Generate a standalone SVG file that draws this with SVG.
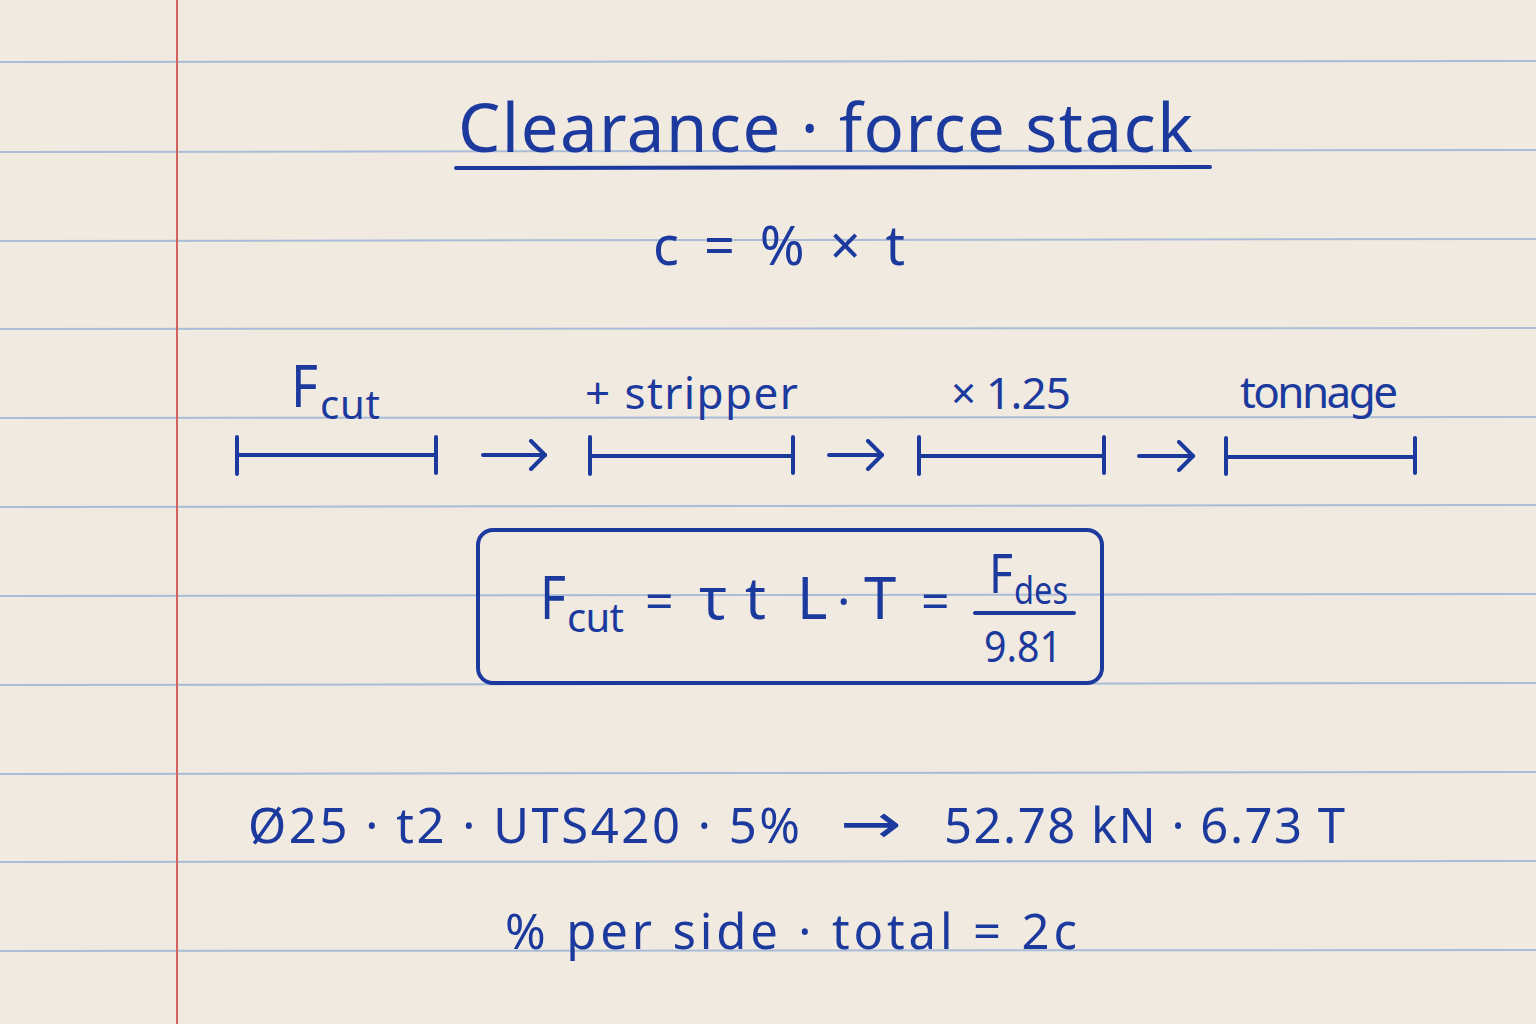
<svg xmlns="http://www.w3.org/2000/svg" width="1536" height="1024" viewBox="0 0 1536 1024">
<defs>
<style>
.ink{fill:#1c3a9e;font-family:"Noto Sans","Open Sans","DejaVu Sans",sans-serif;}
.stroke{stroke:#1c3a9e;stroke-linecap:round;stroke-linejoin:round;fill:none;}
.rule{stroke:#a9bcd8;stroke-width:2;}
</style>
<marker id="chev" markerUnits="userSpaceOnUse" viewBox="0 0 20 32" refX="17" refY="16" markerWidth="20" markerHeight="32" orient="auto">
<path d="M3 2 L17 16 L3 30" fill="none" stroke="#1c3a9e" stroke-width="4" stroke-linecap="round" stroke-linejoin="round"/>
</marker>
</defs>
<rect width="1536" height="1024" fill="#f1eae0"/>
<g id="paper">
<line class="rule" x1="0" y1="62" x2="1536" y2="61"/>
<line class="rule" x1="0" y1="152" x2="1536" y2="150"/>
<line class="rule" x1="0" y1="241" x2="1536" y2="239"/>
<line class="rule" x1="0" y1="329" x2="1536" y2="328"/>
<line class="rule" x1="0" y1="418" x2="1536" y2="417"/>
<line class="rule" x1="0" y1="507" x2="1536" y2="505"/>
<line class="rule" x1="0" y1="596" x2="1536" y2="594"/>
<line class="rule" x1="0" y1="685" x2="1536" y2="683"/>
<line class="rule" x1="0" y1="774" x2="1536" y2="772"/>
<line class="rule" x1="0" y1="862" x2="1536" y2="861"/>
<line class="rule" x1="0" y1="951" x2="1536" y2="950"/>
<line x1="177" y1="0" x2="177" y2="1024" stroke="#d4625e" stroke-width="2"/>
</g>
<g id="title">
<text class="ink" x="458" y="152" font-size="67" textLength="735" lengthAdjust="spacing">Clearance · force stack</text>
<line class="stroke" x1="456" y1="168" x2="1210" y2="167" stroke-width="4"/>
</g>
<g id="clearance-formula">
<text class="ink" x="653" y="265" font-size="54" textLength="252" lengthAdjust="spacing">c = % × t</text>
</g>
<g id="stage-fcut">
<text class="ink" x="291" y="407" font-size="58" textLength="27" lengthAdjust="spacingAndGlyphs">F</text>
<text class="ink" x="320" y="419" font-size="40" textLength="60" lengthAdjust="spacing">cut</text>
<path class="stroke" stroke-width="4" d="M237 437 V474 M237 455 H436 M436 437 V473"/>
</g>
<g id="stage-stripper">
<text class="ink" x="585" y="409" font-size="44" textLength="213" lengthAdjust="spacing">+ stripper</text>
<path class="stroke" stroke-width="4" d="M590 437 V474 M590 456 H793 M793 437 V473"/>
</g>
<g id="stage-factor">
<text class="ink" x="951" y="409" font-size="44" textLength="120" lengthAdjust="spacing">× 1.25</text>
<path class="stroke" stroke-width="4" d="M919 437 V474 M919 456 H1104 M1104 437 V473"/>
</g>
<g id="stage-tonnage">
<text class="ink" x="1240" y="408" font-size="44" textLength="158" lengthAdjust="spacing">tonnage</text>
<path class="stroke" stroke-width="4" d="M1226 438 V474 M1226 457 H1415 M1415 438 V473"/>
</g>
<g id="connectors">
<line class="stroke" stroke-width="4" x1="483" y1="455" x2="545" y2="455" marker-end="url(#chev)"/>
<line class="stroke" stroke-width="4" x1="829" y1="455" x2="882" y2="455" marker-end="url(#chev)"/>
<line class="stroke" stroke-width="4" x1="1139" y1="456" x2="1193" y2="456" marker-end="url(#chev)"/>
</g>
<g id="force-box">
<rect class="stroke" x="478" y="530" width="624" height="153" rx="15" stroke-width="4"/>
<text class="ink" x="540" y="619" font-size="60" textLength="26" lengthAdjust="spacingAndGlyphs">F</text>
<text class="ink" x="567" y="632" font-size="40" textLength="57" lengthAdjust="spacing">cut</text>
<text class="ink" x="645" y="619" font-size="50">=</text>
<text class="ink" x="699" y="619" font-size="58">τ</text>
<text class="ink" x="745" y="619" font-size="58">t</text>
<text class="ink" x="797" y="619" font-size="58">L</text>
<text class="ink" x="837" y="619" font-size="50">·</text>
<text class="ink" x="864" y="619" font-size="58">T</text>
<text class="ink" x="921" y="619" font-size="50">=</text>
<text class="ink" x="989" y="593" font-size="55" textLength="24" lengthAdjust="spacingAndGlyphs">F</text>
<text class="ink" x="1014" y="604" font-size="38" textLength="54" lengthAdjust="spacingAndGlyphs">des</text>
<line class="stroke" x1="975" y1="613" x2="1074" y2="613" stroke-width="4"/>
<text class="ink" x="984" y="662" font-size="44" textLength="78" lengthAdjust="spacingAndGlyphs">9.81</text>
</g>
<g id="example">
<text class="ink" x="248" y="843" font-size="49"><tspan x="248" textLength="552" lengthAdjust="spacing">Ø25 · t2 · UTS420 · 5%</tspan><tspan x="840" font-size="56" textLength="62" lengthAdjust="spacingAndGlyphs">→</tspan><tspan x="944" textLength="401" lengthAdjust="spacing">52.78 kN · 6.73 T</tspan></text>
</g>
<g id="note">
<text class="ink" x="505" y="949" font-size="49" textLength="572" lengthAdjust="spacing">% per side · total = 2c</text>
</g>
</svg>
